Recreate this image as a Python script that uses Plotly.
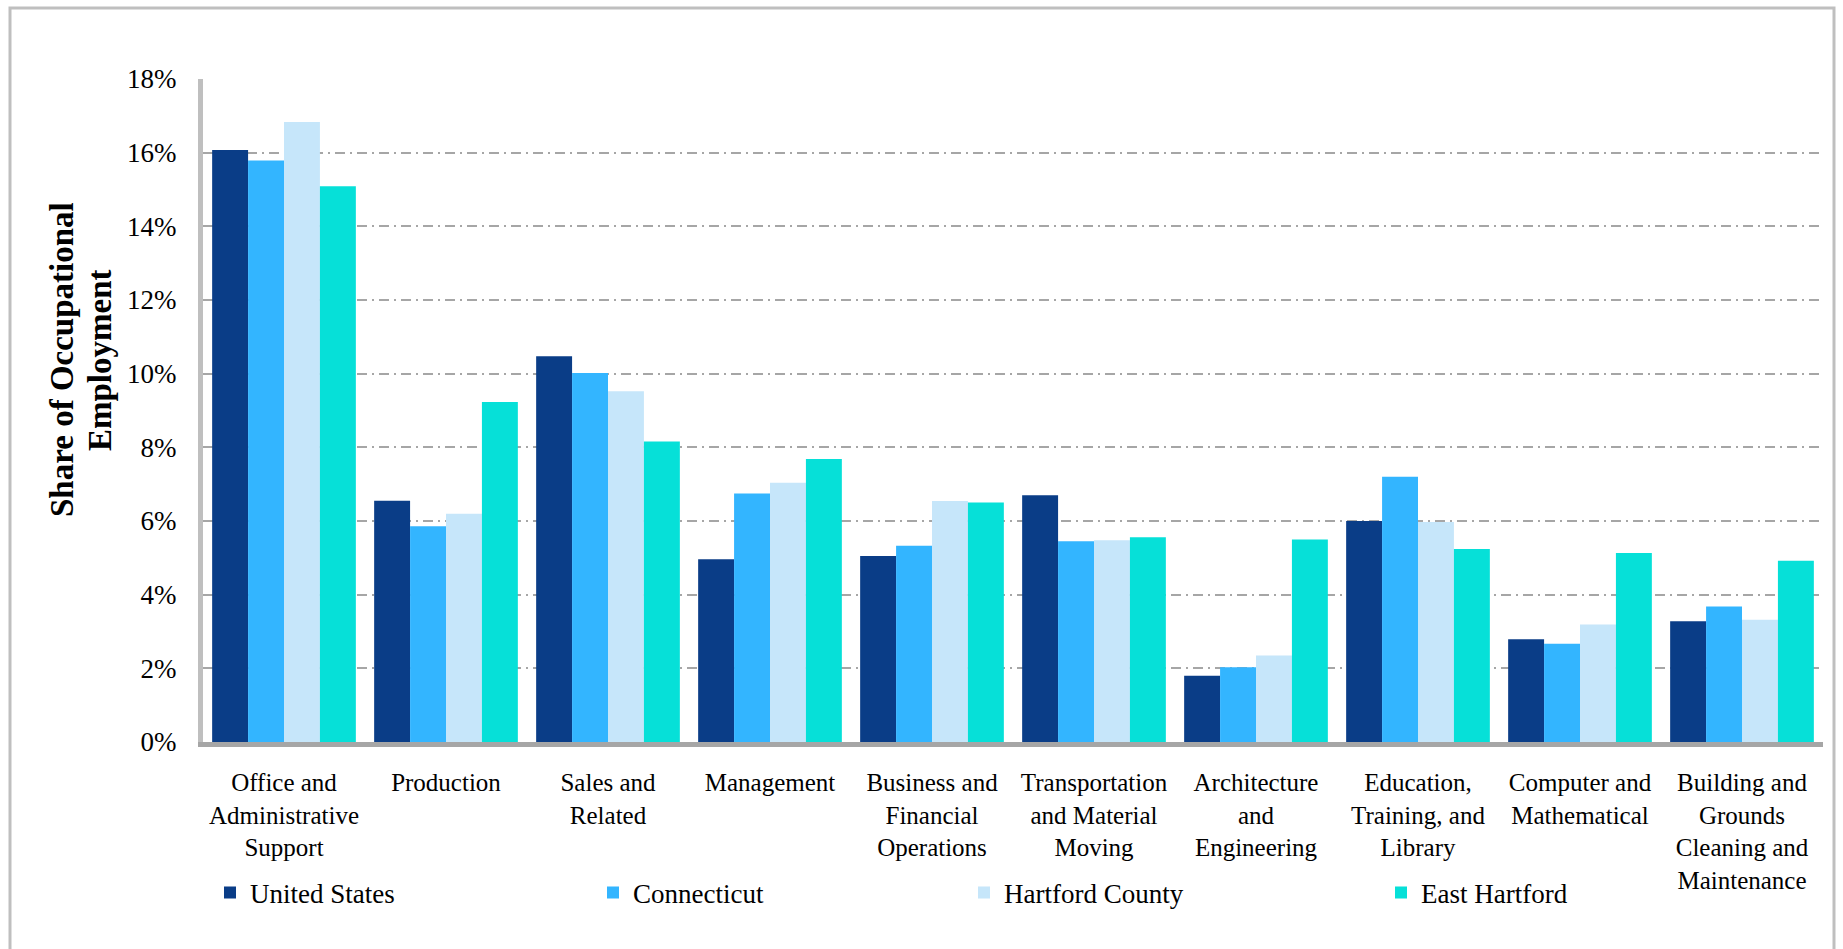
import plotly.graph_objects as go

# ---------------- data ----------------
categories = [
    "Office and Administrative Support", "Production", "Sales and Related",
    "Management", "Business and Financial Operations",
    "Transportation and Material Moving", "Architecture and Engineering",
    "Education, Training, and Library", "Computer and Mathematical",
    "Building and Grounds Cleaning and Maintenance",
]
tick_labels = [
    "Office and<br>Administrative<br>Support", "Production", "Sales and<br>Related",
    "Management", "Business and<br>Financial<br>Operations",
    "Transportation<br>and Material<br>Moving", "Architecture<br>and<br>Engineering",
    "Education,<br>Training, and<br>Library", "Computer and<br>Mathematical",
    "Building and<br>Grounds<br>Cleaning and<br>Maintenance",
]
united_states  = [16.07, 6.55, 10.47, 4.96, 5.05, 6.70, 1.80, 6.00, 2.79, 3.28]
connecticut    = [15.79, 5.86, 10.02, 6.75, 5.33, 5.45, 2.03, 7.20, 2.67, 3.68]
hartford_cnty  = [16.83, 6.20, 9.52, 7.04, 6.54, 5.48, 2.35, 5.97, 3.19, 3.32]
east_hartford  = [15.09, 9.23, 8.16, 7.68, 6.50, 5.56, 5.50, 5.24, 5.13, 4.92]
series_names = ["United States", "Connecticut", "Hartford County", "East Hartford"]
y_tick_values = [0, 2, 4, 6, 8, 10, 12, 14, 16, 18]

# ---------------- layout constants ----------------
W, H = 1843, 949
L, R, T, B = 203, 20, 79, 207
PW, PH = W - L - R, H - T - B

def px_x(p):
    return (p - L) / PW

def px_y(p):
    return (H - B - p) / PH

colors = ["#0A3D87", "#33B5FF", "#C6E6FA", "#06E0D8"]
serif = "Liberation Serif"

fig = go.Figure()
values = [united_states, connecticut, hartford_cnty, east_hartford]
legend_ids = ["legend", "legend2", "legend3", "legend4"]
for name, vals, col, lg in zip(series_names, values, colors, legend_ids):
    fig.add_trace(go.Bar(
        x=categories, y=vals, name=name, marker=dict(color=col, line=dict(width=0)),
        legend=lg,
    ))

legend_symbol_px = [226, 609, 980, 1397]
leg_common = dict(font=dict(family=serif, size=27, color="#000000"),
                  bgcolor="rgba(0,0,0,0)", borderwidth=0,
                  xanchor="left", yanchor="middle", orientation="h")
legend_layout = {}
for lg, sx in zip(legend_ids, legend_symbol_px):
    legend_layout[lg] = dict(x=px_x(sx - 16), y=px_y(893), **leg_common)

fig.update_layout(
    width=W, height=H,
    margin=dict(l=L, r=R, t=T, b=B, autoexpand=False),
    paper_bgcolor="white", plot_bgcolor="white",
    barmode="group", bargap=0.113, bargroupgap=0,
    showlegend=True,
    font=dict(family=serif, color="#000000"),
    xaxis=dict(
        tickmode="array", tickvals=categories, ticktext=tick_labels,
        tickfont=dict(family=serif, size=25, color="#000000"),
        showline=True, linecolor="#A6A6A6", linewidth=5,
        showgrid=False, ticks="", ticklabelstandoff=14,
    ),
    yaxis=dict(
        range=[0, 18], tickmode="array", tickvals=y_tick_values,
        ticktext=[f"{v}%" for v in y_tick_values],
        tickfont=dict(family=serif, size=27, color="#000000"),
        showline=True, linecolor="#BFBFBF", linewidth=5,
        showgrid=True, gridcolor="#A6A6A6", gridwidth=2,
        griddash="10px,5px,2px,5px",
        zeroline=False, ticks="", ticklabelstandoff=16,
    ),
    **legend_layout,
)

# y axis title (two lines)
fig.add_annotation(text="<b>Share of Occupational</b>", xref="paper", yref="paper",
                   x=px_x(62), y=px_y(360), xanchor="center", yanchor="middle",
                   textangle=-90, showarrow=False,
                   font=dict(family=serif, size=33, color="#000000"))
fig.add_annotation(text="<b>Employment</b>", xref="paper", yref="paper",
                   x=px_x(100), y=px_y(360), xanchor="center", yanchor="middle",
                   textangle=-90, showarrow=False,
                   font=dict(family=serif, size=33, color="#000000"))

# outer chart border
fig.add_shape(type="rect", xref="paper", yref="paper",
              x0=px_x(10), x1=px_x(1834), y0=px_y(955), y1=px_y(8),
              line=dict(color="#BFBFBF", width=3), fillcolor="rgba(0,0,0,0)",
              layer="below")

fig.write_html("out.html", config={"displayModeBar": False},
               post_script="document.body.style.margin='0';document.body.style.overflow='hidden';")
